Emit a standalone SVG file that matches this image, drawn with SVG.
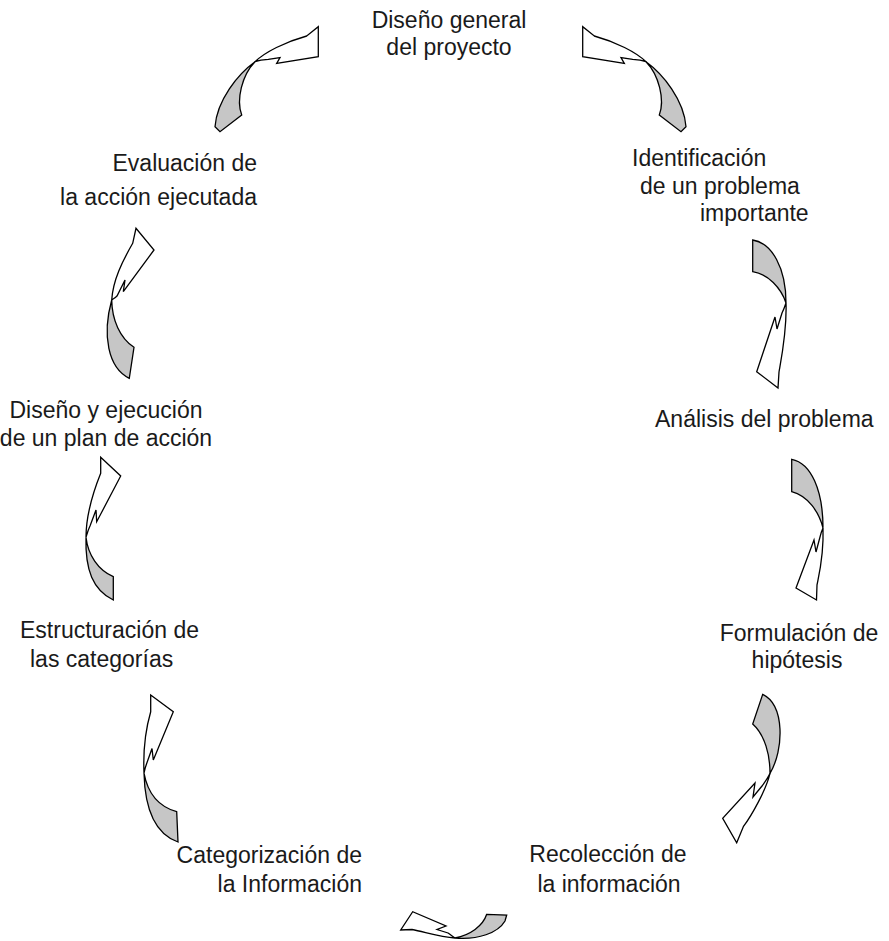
<svg xmlns="http://www.w3.org/2000/svg" width="889" height="941" viewBox="0 0 889 941">
<style>
text{font-family:"Liberation Sans",Arial,sans-serif;font-size:23px;fill:#1a1a1a}
.g{fill:#c6c6c6;stroke:#000;stroke-width:1.3;stroke-linejoin:miter}
.w{fill:#fff;stroke:#000;stroke-width:1.3;stroke-linejoin:miter}
.m{text-anchor:middle}.e{text-anchor:end}
</style>
<rect width="889" height="941" fill="#fff"/>
<g id="connectors">
<g id="a-eval-diseno">
<path class="g" d="M255,61.7 C238,74 217,100 215,126.7 L220,131.7 L241.7,115 C236,100 242,75 255,61.7 Z"/>
<path class="w" d="M255,61.7 C265,52 285,42 306.7,36 L318.3,26.7 L318.3,56.7 L276.7,63.3 L280,57.7 L268.3,59.3 C263,59.5 258,60.5 255,61.7 Z"/>
</g>
<g id="a-diseno-ident" transform="translate(901,0) scale(-1,1)">
<path class="g" d="M255,61.7 C238,74 217,100 215,126.7 L220,131.7 L241.7,115 C236,100 242,75 255,61.7 Z"/>
<path class="w" d="M255,61.7 C265,52 285,42 306.7,36 L318.3,26.7 L318.3,56.7 L276.7,63.3 L280,57.7 L268.3,59.3 C263,59.5 258,60.5 255,61.7 Z"/>
</g>
<g id="a-ident-analisis">
<path class="g" d="M752.7,240 C772,243 786,268 786,303 C781,288 768,274 752.7,271.7 Z"/>
<path class="w" d="M786,303 C787,330 782,355 779,372 L778,388 L756.7,371.7 L775,317 L777,329 L782,313 C784,309 785,306 786,303 Z"/>
</g>
<g id="a-analisis-form">
<path class="g" d="M791.7,459.3 C811,463 823,490 823,528 C819,512 808,496 791.7,491.7 Z"/>
<path class="w" d="M823,528 C824,555 819,575 817,585 L816.5,600 L796,588 L814,540 L816,552 L820,537 C821,533 822,530 823,528 Z"/>
</g>
<g id="a-form-recol">
<path class="g" d="M762.7,694.3 C785,705 784,750 770,773.3 C770,755 765,735 752.7,724 Z"/>
<path class="w" d="M770,773.3 C766,790 752,815 743.3,826.7 L736.7,842.7 L722.7,818.3 L755,783 L753,797 L762,786 C765,782 768,778 770,773.3 Z"/>
</g>
<g id="a-recol-categ">
<path class="g" d="M486.7,914.3 L506.7,915 L505,921 C498,933 478,940 455,938 C470,935 483,926 486.7,914.3 Z"/>
<path class="w" d="M455,938 C440,937 425,932 412,929.5 L400.7,930 L412.7,911.7 L446,926 L437,929.5 L448,933 C451,935 453,937 455,938 Z"/>
</g>
<g id="a-categ-estruct">
<path class="g" d="M144,773 C148,795 160,807 176.7,811.7 L178,842 C158,835 145,815 144,773 Z"/>
<path class="w" d="M144,773 C143,750 146,728 150.7,711.7 L150.7,695 L173.3,711.7 L153.3,760 L152,748.5 L146.5,764 C145,768 144.5,771 144,773 Z"/>
</g>
<g id="a-estruct-plan">
<path class="g" d="M86,537.3 C88,555 98,570 113.3,576.7 L113.3,600 C93,590 85,570 86,537.3 Z"/>
<path class="w" d="M86,537.3 C86,515 92,495 100.7,473.3 L100.7,457.3 L120.7,476 L96.7,521.7 L96,510 L90,526 C88,530 87,534 86,537.3 Z"/>
</g>
<g id="a-plan-eval">
<path class="g" d="M111.7,300 C112,320 120,338 134,347.3 L129.3,378.3 C108,368 102,335 111.7,300 Z"/>
<path class="w" d="M111.7,300 C113,280 122,262 132.7,243.3 L136,228.3 L154,250 L123.3,291.7 L125,280 L117,296 C115,298 113,299 111.7,300 Z"/>
</g>
</g>
<g id="n-diseno-general"><text class="m" x="449" y="28">Diseño general</text><text class="m" x="449" y="55">del proyecto</text></g>
<g id="n-identificacion"><text x="632" y="166">Identificación</text><text x="640" y="194">de un problema</text><text x="700" y="221">importante</text></g>
<g id="n-analisis"><text x="655" y="427">Análisis del problema</text></g>
<g id="n-formulacion"><text class="m" x="799" y="641">Formulación de</text><text class="m" x="797" y="668">hipótesis</text></g>
<g id="n-recoleccion"><text class="m" x="608" y="862">Recolección de</text><text class="m" x="609" y="892">la información</text></g>
<g id="n-categorizacion"><text class="e" x="362" y="863">Categorización de</text><text class="e" x="362" y="892">la Información</text></g>
<g id="n-estructuracion"><text x="20" y="638">Estructuración de</text><text x="30" y="667">las categorías</text></g>
<g id="n-diseno-ejecucion"><text class="m" x="106" y="418">Diseño y ejecución</text><text class="m" x="106" y="446">de un plan de acción</text></g>
<g id="n-evaluacion"><text class="e" x="257" y="171">Evaluación de</text><text class="e" x="257" y="205">la acción ejecutada</text></g>
</svg>
